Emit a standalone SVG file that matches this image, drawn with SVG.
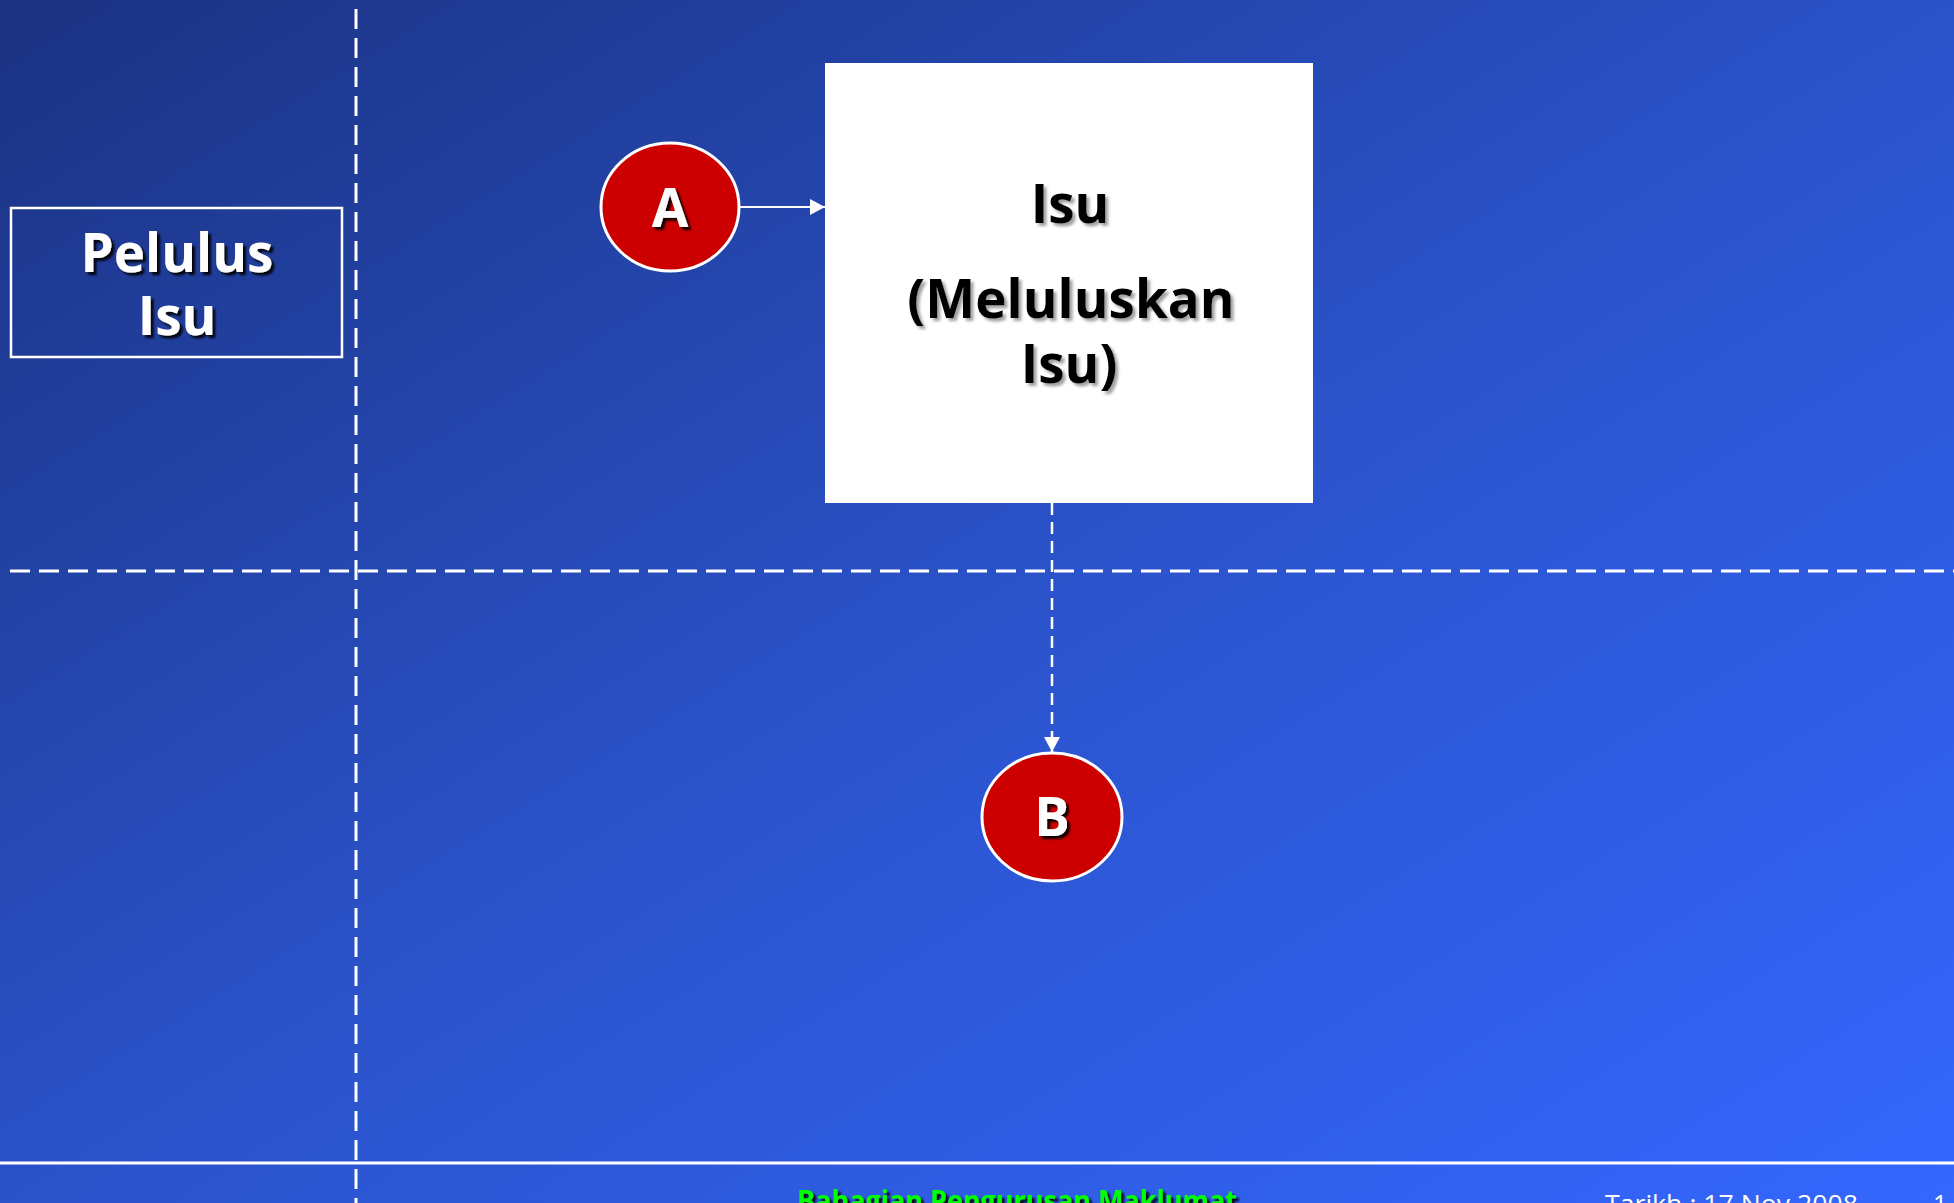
<svg xmlns="http://www.w3.org/2000/svg" width="1954" height="1203" viewBox="0 0 1954 1203">
<defs>
<linearGradient id="bg" x1="0" y1="0" x2="1" y2="1">
<stop offset="0" stop-color="#1b3281"/>
<stop offset="0.5" stop-color="#2a52c9"/>
<stop offset="1" stop-color="#3467ff"/>
</linearGradient>
<filter id="sh" x="-20%" y="-20%" width="140%" height="140%">
<feDropShadow dx="3" dy="3" stdDeviation="1.2" flood-color="#000" flood-opacity="0.9"/>
</filter>
<filter id="shg" x="-20%" y="-20%" width="140%" height="140%">
<feDropShadow dx="3" dy="3" stdDeviation="1.5" flood-color="#777" flood-opacity="0.7"/>
</filter>
<marker id="ah2" markerWidth="16" markerHeight="16" refX="15" refY="8" orient="auto" markerUnits="userSpaceOnUse">
<path d="M0,0 L15,8 L0,16 Z" fill="#fff"/>
</marker>
</defs>
<style>
.div{stroke:#fff;stroke-width:3;stroke-dasharray:20 9;fill:none}
.big{font-family:"Open Sans","DejaVu Sans",sans-serif;font-weight:bold;font-size:53px;text-anchor:middle}
.w{fill:#fff;filter:url(#sh)}
.k{fill:#000;filter:url(#shg)}
.circ{fill:#cc0000;stroke:#fff;stroke-width:3}
</style>
<rect width="1954" height="1203" fill="url(#bg)"/>
<g id="grid">
<line class="div" x1="356" y1="9" x2="356" y2="1203"/>
<line class="div" x1="10" y1="571" x2="1954" y2="571"/>
<line x1="0" y1="1163" x2="1954" y2="1163" stroke="#fff" stroke-width="3"/>
</g>
<g id="connectors">
<line x1="740" y1="207" x2="825" y2="207" stroke="#fff" stroke-width="2" marker-end="url(#ah2)"/>
<line x1="1052" y1="503" x2="1052" y2="752" stroke="#fff" stroke-width="2.5" stroke-dasharray="12 7" marker-end="url(#ah2)"/>
</g>
<g id="pelulus">
<rect x="11" y="208" width="331" height="149" fill="none" stroke="#fff" stroke-width="2.5"/>
<text class="big w" x="177" y="272">Pelulus</text>
<text class="big w" x="177" y="335">Isu</text>
</g>
<g id="nodeA">
<ellipse class="circ" cx="670" cy="207" rx="69" ry="64"/>
<text class="big w" x="670" y="227">A</text>
</g>
<g id="isu">
<rect x="825" y="63" width="488" height="440" fill="#fff"/>
<text class="big k" x="1070" y="223">Isu</text>
<text class="big k" x="1071" y="318">(Meluluskan</text>
<text class="big k" x="1069" y="383">Isu)</text>
</g>
<g id="nodeB">
<ellipse class="circ" cx="1052" cy="817" rx="70" ry="64"/>
<text class="big w" x="1052" y="836">B</text>
</g>
<g id="footer">
<text x="797" y="1211" font-family="'Open Sans','DejaVu Sans',sans-serif" font-weight="bold" font-size="28" fill="#00ff00" filter="url(#sh)" textLength="440" lengthAdjust="spacingAndGlyphs">Bahagian Pengurusan Maklumat</text>
<text x="1605" y="1213" font-family="'Open Sans','DejaVu Sans',sans-serif" font-size="25" fill="#fff" textLength="253" lengthAdjust="spacingAndGlyphs">Tarikh :  17 Nov 2008</text>
<text x="1933" y="1213" font-family="'Open Sans','DejaVu Sans',sans-serif" font-size="25" fill="#fff">1</text>
</g>
</svg>
